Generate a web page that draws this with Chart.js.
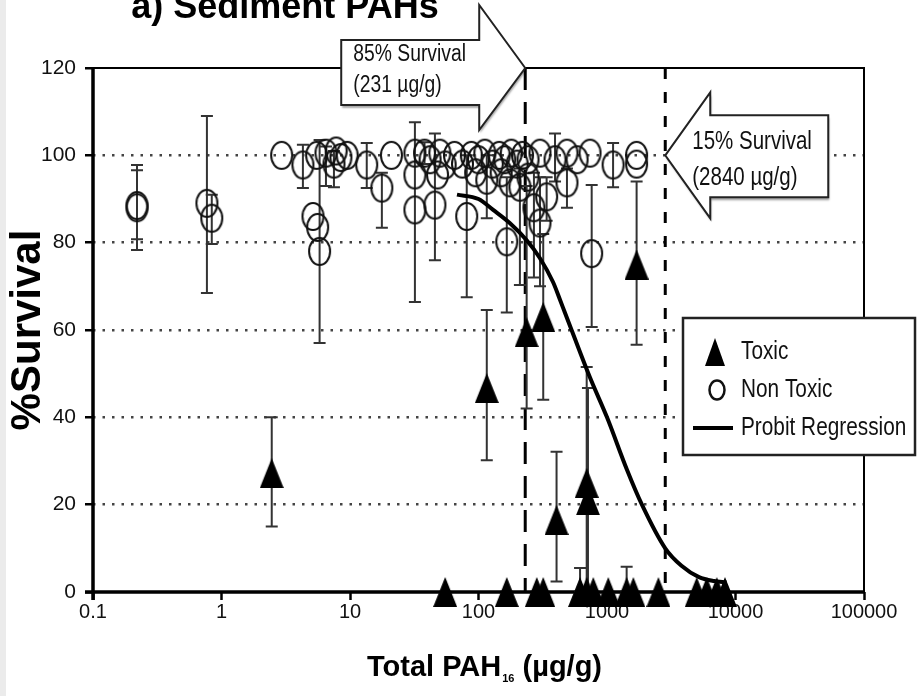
<!DOCTYPE html>
<html>
<head>
<meta charset="utf-8">
<script src="https://cdn.jsdelivr.net/npm/chart.js@4.4.1/dist/chart.umd.min.js"></script>
<style>
html, body { margin: 0; padding: 0; background: #fff; }
canvas { display: block; }
</style>
</head>
<body>
<canvas id="survivalChart" width="917" height="696"></canvas>
<script>
// axis ticks
const xTicks = [0.1, 1, 10, 100, 1000, 10000, 100000];
const xTickLabels = ["0.1", "1", "10", "100", "1000", "10000", "100000"];

// Toxic samples (total PAH µg/g, % survival, error low / high)
const toxicPAH      = [2.46, 55, 116, 166, 237, 284, 319, 319, 405, 617, 695, 695, 711, 782, 1023, 1422, 1603, 1700, 2512, 4990, 5970, 7150, 8280];
const toxicSurvival = [27.2, 0, 46.7, 0, 59.5, 0, 0, 63, 16.5, 0, 25, 0, 21, 0, 0, 0, 0, 75, 0, 0, 0, 0, 0];
const toxicErrLow   = [15, null, 30.2, null, 42, null, null, 44, 2.4, 0, 0, null, 1, null, null, 0, null, 56.6, null, null, null, null, null];
const toxicErrHigh  = [40, null, 64.6, null, 93, null, null, 82, 32.1, 5.5, 51.5, null, 46.7, null, null, 5.8, null, 94, null, null, null, null, null];

// Non toxic samples
const nonToxicPAH      = [0.22, 0.22, 0.77, 0.84, 2.94, 4.3, 5.15, 5.6, 5.8, 5.5, 6.5, 7.5, 8.5, 9.5, 7.8, 13.5, 17.7, 21, 32, 32, 32, 45.8, 38, 42, 50, 55, 48,
                          81, 116, 166, 243, 301, 394, 488, 585, 738, 488, 339, 243, 210, 270, 301, 760, 1115, 1700, 1700, 176,
                          65, 75, 88, 100, 112, 128, 145, 160, 180, 200, 220, 150, 95];
const nonToxicSurvival = [88, 88.5, 89, 85.6, 100, 97.8, 86, 83.5, 78, 100, 100.5, 98, 99.5, 100, 101, 97.8, 92.5, 100, 100.5, 95.5, 87.5, 88.6, 100.5, 99, 100.5, 97.8, 95.5,
                          86, 94.3, 80.2, 99, 100.5, 99, 100.5, 99, 100.5, 93.7, 90.5, 95, 92.7, 88, 84.5, 77.5, 97.8, 100, 98, 93.7,
                          100, 98, 100, 99, 100.5, 98, 100, 99, 100.5, 98, 100, 96, 96];
const nonToxicErrLow   = [78.3, 80.8, 68.5, 79.7, null, 92.5, null, null, 57, null, 93, 92.7, null, null, null, 92.5, 83.4, null, 66.4, null, null, 76, 98, null, null, null, null,
                          67.5, 85.6, 64, null, null, 94, null, null, null, 88, 85, null, 70.3, 72, 70, 60.7, 92.7, null, null, null,
                          null, null, null, null, null, null, null, null, null, null, null, null, null];
const nonToxicErrHigh  = [97.8, 96.6, 109, 91, null, 102.4, null, null, 103.5, null, 102, 101, null, null, null, 102.8, 96, null, 107.6, null, null, 105, 103, null, null, null, null,
                          100, 100, 95, null, null, 105, null, null, null, 97, 95, null, 97, 96, 95, 93.2, 102.8, null, null, null,
                          null, null, null, null, null, null, null, null, null, null, null, null, null];

// Probit regression curve
const probitPAH      = [68, 100, 130, 175, 238, 300, 380, 430, 470, 530, 740, 1000, 1430, 1870, 2840, 3800, 5200, 6800, 8500];
const probitSurvival = [91, 90, 87.5, 84.5, 80.5, 76.5, 71, 67, 64, 60, 49, 40, 28, 20, 10, 6, 3.4, 2.5, 2.2];

// survival thresholds
const thresholdPAH = [231, 2840];
const thresholdText = [["85% Survival", "(231 µg/g)"], ["15% Survival", "(2840 µg/g)"]];

const sans = "'Liberation Sans', Arial, sans-serif";

function makeEllipse(w, h, lw) {
    const c = document.createElement("canvas");
    c.width = w; c.height = h;
    const g = c.getContext("2d");
    g.strokeStyle = "#111";
    g.lineWidth = lw;
    g.beginPath();
    g.ellipse(w / 2, h / 2, w / 2 - lw, h / 2 - lw, 0, 0, Math.PI * 2);
    g.stroke();
    return c;
}

function makeTriangle(w, h) {
    const c = document.createElement("canvas");
    c.width = w; c.height = h;
    const g = c.getContext("2d");
    g.fillStyle = "#000";
    g.beginPath();
    g.moveTo(w / 2, 0);
    g.lineTo(w, h);
    g.lineTo(0, h);
    g.closePath();
    g.fill();
    return c;
}

const circleImg = makeEllipse(25, 31, 2);
const triangleImg = makeTriangle(24, 30);
const circleLegend = makeEllipse(20, 24, 2.5);
const triangleLegend = makeTriangle(20, 28);

function toPoints(xs, ys) {
    return xs.map((x, i) => ({ x: x, y: ys[i] }));
}

// condensed text: regular sans squeezed horizontally
function narrowText(ctx, text, x, y, size, squeeze) {
    ctx.save();
    ctx.font = size + "px " + sans;
    ctx.translate(x, y);
    ctx.scale(squeeze, 1);
    ctx.fillText(text, 0, 0);
    ctx.restore();
}

const background = {
    id: "background",
    beforeDraw(chart) {
        const ctx = chart.ctx;
        ctx.save();
        ctx.fillStyle = "#fff";
        ctx.fillRect(0, 0, chart.width, chart.height);
        ctx.fillStyle = "#ebebeb";
        ctx.fillRect(0, 0, 6, chart.height);
        ctx.restore();
    }
};

const errorBars = {
    id: "errorBars",
    beforeDatasetsDraw(chart) {
        const ctx = chart.ctx;
        const xs = chart.scales.x, ys = chart.scales.y;
        const area = chart.chartArea;

        // frame
        ctx.save();
        ctx.strokeStyle = "#000";
        ctx.lineWidth = 2;
        ctx.beginPath();
        ctx.moveTo(area.left, area.top);
        ctx.lineTo(area.right, area.top);
        ctx.lineTo(area.right, area.bottom);
        ctx.stroke();
        ctx.lineWidth = 3.5;
        ctx.beginPath();
        ctx.moveTo(area.left, area.top - 1);
        ctx.lineTo(area.left, area.bottom + 8);
        ctx.moveTo(area.left - 8, area.bottom);
        ctx.lineTo(area.right, area.bottom);
        ctx.stroke();

        // threshold lines
        ctx.lineWidth = 3;
        [[22, 12], [11, 13]].forEach((dash, i) => {
            const px = xs.getPixelForValue(thresholdPAH[i]);
            ctx.setLineDash(dash);
            ctx.beginPath();
            ctx.moveTo(px, area.top);
            ctx.lineTo(px, area.bottom);
            ctx.stroke();
        });
        ctx.setLineDash([]);

        // error bars
        ctx.strokeStyle = "#333";
        ctx.lineWidth = 2;
        const series = [
            [nonToxicPAH, nonToxicErrLow, nonToxicErrHigh],
            [toxicPAH, toxicErrLow, toxicErrHigh]
        ];
        series.forEach(([pah, lo, hi]) => {
            pah.forEach((v, i) => {
                if (lo[i] === null || hi[i] === null) return;
                const px = xs.getPixelForValue(v);
                const top = ys.getPixelForValue(hi[i]);
                const bot = ys.getPixelForValue(lo[i]);
                ctx.beginPath();
                ctx.moveTo(px, top);
                ctx.lineTo(px, bot);
                ctx.moveTo(px - 6, top);
                ctx.lineTo(px + 6, top);
                ctx.moveTo(px - 6, bot);
                ctx.lineTo(px + 6, bot);
                ctx.stroke();
            });
        });
        ctx.restore();
    }
};

function drawArrow(ctx, pts) {
    ctx.beginPath();
    ctx.moveTo(pts[0][0], pts[0][1]);
    for (let i = 1; i < pts.length; i++) ctx.lineTo(pts[i][0], pts[i][1]);
    ctx.closePath();
    ctx.save();
    ctx.shadowColor = "rgba(0,0,0,0.35)";
    ctx.shadowOffsetX = 1;
    ctx.shadowOffsetY = 3;
    ctx.shadowBlur = 2;
    ctx.fillStyle = "#fff";
    ctx.fill();
    ctx.restore();
    ctx.strokeStyle = "#222";
    ctx.lineWidth = 2;
    ctx.stroke();
}

const annotations = {
    id: "annotations",
    afterDraw(chart) {
        const ctx = chart.ctx;
        const xs = chart.scales.x, ys = chart.scales.y;
        ctx.save();

        // 85% survival arrow (points right)
        const x1 = xs.getPixelForValue(thresholdPAH[0]);
        const y1 = ys.getPixelForValue(120);
        drawArrow(ctx, [[x1, y1], [x1 - 46, y1 - 63], [x1 - 46, y1 - 28], [x1 - 184, y1 - 28],
                        [x1 - 184, y1 + 37], [x1 - 46, y1 + 37], [x1 - 46, y1 + 62]]);
        // 15% survival arrow (points left)
        const x2 = xs.getPixelForValue(thresholdPAH[1]);
        const y2 = ys.getPixelForValue(100);
        drawArrow(ctx, [[x2, y2], [x2 + 45, y2 - 63], [x2 + 45, y2 - 40], [x2 + 163, y2 - 40],
                        [x2 + 163, y2 + 42], [x2 + 45, y2 + 42], [x2 + 45, y2 + 63]]);

        ctx.fillStyle = "#111";
        ctx.textAlign = "left";
        ctx.textBaseline = "middle";
        narrowText(ctx, thresholdText[0][0], x1 - 172, y1 - 13, 23, 0.84);
        narrowText(ctx, thresholdText[0][1], x1 - 172, y1 + 18, 23, 0.84);
        narrowText(ctx, thresholdText[1][0], x2 + 27, y2 - 13, 25, 0.82);
        narrowText(ctx, thresholdText[1][1], x2 + 27, y2 + 23, 25, 0.82);

        // legend
        const lx = 683, ly = 318, lw = 232, lh = 137;
        ctx.fillStyle = "#fff";
        ctx.fillRect(lx, ly, lw, lh);
        ctx.strokeStyle = "#222";
        ctx.lineWidth = 2.5;
        ctx.strokeRect(lx, ly, lw, lh);
        const labels = chart.data.datasets.map(d => d.label);
        ctx.drawImage(triangleLegend, lx + 22, ly + 20);
        ctx.drawImage(circleLegend, lx + 24, ly + 60);
        ctx.lineWidth = 4;
        ctx.strokeStyle = "#000";
        ctx.beginPath();
        ctx.moveTo(lx + 10, ly + 110);
        ctx.lineTo(lx + 50, ly + 110);
        ctx.stroke();
        ctx.fillStyle = "#111";
        narrowText(ctx, labels[0], lx + 58, ly + 34, 26, 0.8);
        narrowText(ctx, labels[1], lx + 58, ly + 72, 26, 0.8);
        narrowText(ctx, labels[2], lx + 58, ly + 110, 26, 0.8);

        // panel title (cut by the top edge)
        ctx.font = "bold 36px " + sans;
        ctx.textAlign = "center";
        ctx.textBaseline = "alphabetic";
        ctx.fillStyle = "#000";
        ctx.fillText("a) Sediment PAHs", 285, 18);

        // axis titles
        ctx.textAlign = "left";
        const part1 = "Total PAH", part3 = " (µg/g)";
        ctx.font = "bold 29px " + sans;
        const w1 = ctx.measureText(part1).width;
        const w3 = ctx.measureText(part3).width;
        ctx.font = "bold 11px " + sans;
        const w2 = ctx.measureText("16").width;
        const start = 484 - (w1 + w2 + w3) / 2;
        ctx.font = "bold 29px " + sans;
        ctx.fillText(part1, start, 676);
        ctx.fillText(part3, start + w1 + w2 + 1, 676);
        ctx.font = "bold 11px " + sans;
        ctx.fillText("16", start + w1 + 1, 682);

        ctx.translate(28, 330);
        ctx.rotate(-Math.PI / 2);
        ctx.textAlign = "center";
        ctx.textBaseline = "middle";
        ctx.font = "bold 42px " + sans;
        ctx.fillText("%Survival", 0, 0);
        ctx.restore();
    }
};

const ctx = document.getElementById("survivalChart").getContext("2d");

new Chart(ctx, {
    type: "scatter",
    data: {
        datasets: [
            {
                label: "Toxic",
                data: toPoints(toxicPAH, toxicSurvival),
                pointStyle: triangleImg,
                clip: false,
                order: 2
            },
            {
                label: "Non Toxic",
                data: toPoints(nonToxicPAH, nonToxicSurvival),
                pointStyle: circleImg,
                clip: false,
                order: 3
            },
            {
                label: "Probit Regression",
                data: toPoints(probitPAH, probitSurvival),
                showLine: true,
                borderColor: "#000",
                borderWidth: 4,
                pointRadius: 0,
                cubicInterpolationMode: "monotone",
                clip: false,
                order: 1
            }
        ]
    },
    options: {
        responsive: false,
        animation: false,
        devicePixelRatio: 1,
        layout: {
            padding: { left: 0, right: 53, top: 68, bottom: 0 }
        },
        plugins: {
            legend: { display: false },
            tooltip: { enabled: false }
        },
        scales: {
            x: {
                type: "logarithmic",
                min: 0.1,
                max: 100000,
                afterBuildTicks: axis => {
                    axis.ticks = xTicks.map(v => ({ value: v }));
                },
                afterFit: axis => { axis.height = 104; },
                ticks: {
                    autoSkip: false,
                    maxRotation: 0,
                    padding: 0,
                    color: "#111",
                    font: { size: 20, family: sans },
                    callback: (value, index) => xTickLabels[index]
                },
                grid: {
                    drawOnChartArea: false,
                    drawTicks: true,
                    tickLength: 8,
                    tickColor: "#000",
                    tickWidth: 2.5
                },
                border: { display: false }
            },
            y: {
                min: 0,
                max: 120,
                afterFit: axis => { axis.width = 93; },
                ticks: {
                    stepSize: 20,
                    padding: 9,
                    color: "#111",
                    font: { size: 21, family: sans }
                },
                grid: {
                    color: c => (c.tick.value === 0 || c.tick.value === 120) ? "rgba(0,0,0,0)" : "#444",
                    lineWidth: 2.5,
                    drawTicks: true,
                    tickLength: 8,
                    tickColor: "#000",
                    tickWidth: 2.5
                },
                border: { display: false, dash: [2.5, 7] }
            }
        }
    },
    plugins: [background, errorBars, annotations]
});
</script>
</body>
</html>
